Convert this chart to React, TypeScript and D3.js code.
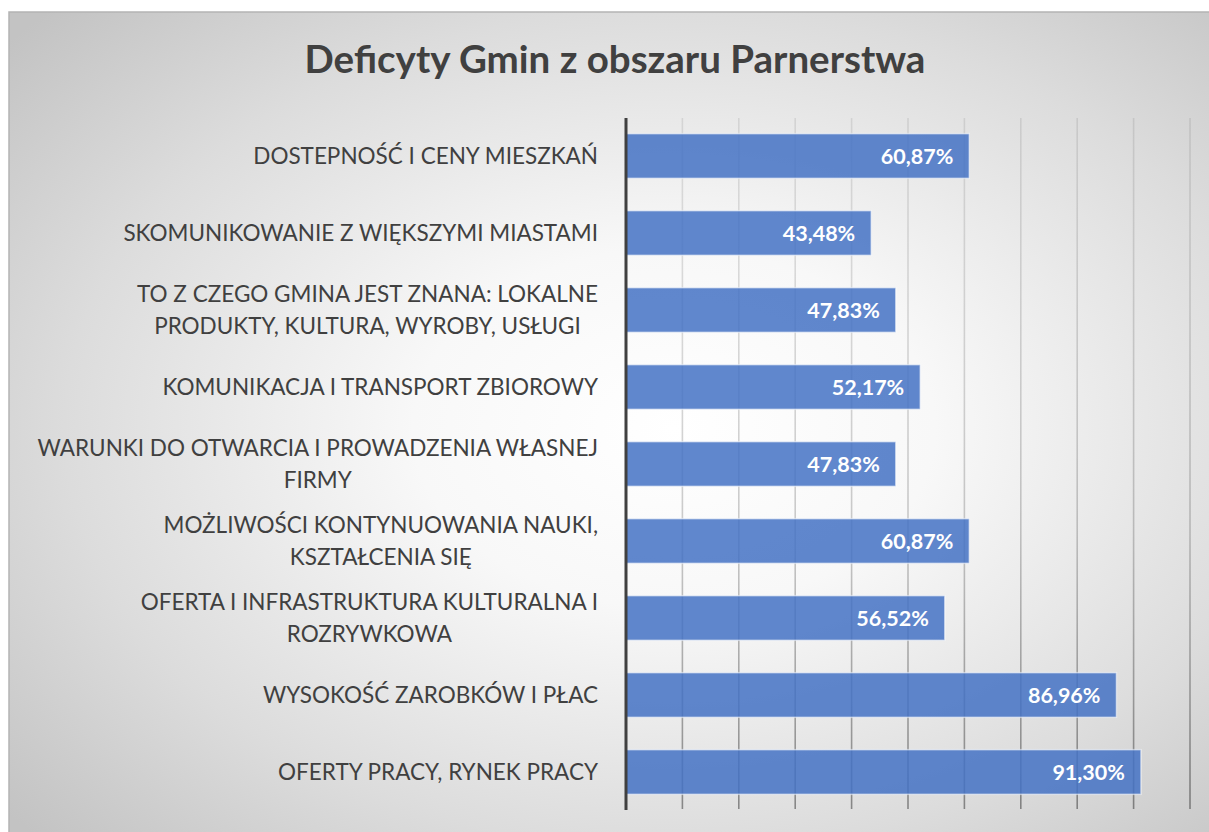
import { useEffect, useRef } from 'react';
import * as d3 from 'd3';

const W = 1209;
const H = 832;

// categories top -> bottom, "\n" marks where the label wraps
const categories = [
  'DOSTEPNOŚĆ I CENY MIESZKAŃ',
  'SKOMUNIKOWANIE Z WIĘKSZYMI MIASTAMI ',
  'TO Z CZEGO GMINA JEST ZNANA: LOKALNE\nPRODUKTY, KULTURA, WYROBY, USŁUGI',
  'KOMUNIKACJA I TRANSPORT ZBIOROWY ',
  'WARUNKI DO OTWARCIA I PROWADZENIA WŁASNEJ\nFIRMY',
  'MOŻLIWOŚCI KONTYNUOWANIA NAUKI,\nKSZTAŁCENIA SIĘ',
  'OFERTA I INFRASTRUKTURA KULTURALNA I\nROZRYWKOWA',
  'WYSOKOŚĆ ZAROBKÓW I PŁAC',
  'OFERTY PRACY, RYNEK PRACY ',
];
const values = [60.87, 43.48, 47.83, 52.17, 47.83, 60.87, 56.52, 86.96, 91.3];
const gridTicks = [10, 20, 30, 40, 50, 60, 70, 80, 90, 100];

const title = 'Deficyty Gmin z obszaru Parnerstwa';
const font = 'Lato, "Open Sans", sans-serif';
const textColor = '#404040';

export default function App() {
  const svgRef = useRef<SVGSVGElement>(null);

  useEffect(() => {
    const svg = d3.select(svgRef.current);
    svg.selectAll('*').remove();

    const x = d3.scaleLinear().domain([0, 100]).range([626, 1190]);
    const y = d3
      .scaleBand<string>()
      .domain(categories)
      .range([117.5, 810.5])
      .paddingInner(0.42)
      .paddingOuter(0.21);

    const defs = svg.append('defs');
    const bg = defs
      .append('radialGradient')
      .attr('id', 'bg')
      .attr('cx', '55%')
      .attr('cy', '50%')
      .attr('r', '72%');
    bg.append('stop').attr('offset', '0%').attr('stop-color', '#ffffff');
    bg.append('stop').attr('offset', '30%').attr('stop-color', '#f8f8f8');
    bg.append('stop').attr('offset', '70%').attr('stop-color', '#dcdcdc');
    bg.append('stop').attr('offset', '100%').attr('stop-color', '#c3c3c3');

    const gridGrad = defs
      .append('linearGradient')
      .attr('id', 'grid')
      .attr('gradientUnits', 'userSpaceOnUse')
      .attr('x1', 0)
      .attr('y1', 118)
      .attr('x2', 0)
      .attr('y2', 810);
    gridGrad.append('stop').attr('offset', '0%').attr('stop-color', '#000').attr('stop-opacity', 0.09);
    gridGrad.append('stop').attr('offset', '60%').attr('stop-color', '#000').attr('stop-opacity', 0.2);
    gridGrad.append('stop').attr('offset', '100%').attr('stop-color', '#000').attr('stop-opacity', 0.4);

    // chart area frame
    svg
      .append('rect')
      .attr('x', 9)
      .attr('y', 12)
      .attr('width', W)
      .attr('height', H)
      .attr('fill', 'url(#bg)')
      .attr('stroke', '#b4b4b4')
      .attr('stroke-width', 1.5);

    svg
      .append('text')
      .attr('x', 615)
      .attr('y', 73)
      .attr('text-anchor', 'middle')
      .attr('font-family', font)
      .attr('font-weight', 700)
      .attr('font-size', 38.5)
      .attr('fill', textColor)
      .text(title);

    // gridlines
    svg
      .append('g')
      .selectAll('line')
      .data(gridTicks)
      .join('line')
      .attr('x1', (d) => x(d))
      .attr('x2', (d) => x(d))
      .attr('y1', 118)
      .attr('y2', 809)
      .attr('stroke', 'url(#grid)')
      .attr('stroke-width', 1.6);

    // bars
    svg
      .append('g')
      .selectAll('rect')
      .data(values)
      .join('rect')
      .attr('x', x(0))
      .attr('y', (d, i) => y(categories[i])!)
      .attr('width', (d) => x(d) - x(0))
      .attr('height', y.bandwidth())
      .attr('fill', '#4472c4')
      .attr('fill-opacity', 0.85)
      .attr('stroke', '#ffffff')
      .attr('stroke-opacity', 0.55)
      .attr('stroke-width', 1.5);

    // value labels inside bar end
    svg
      .append('g')
      .selectAll('text')
      .data(values)
      .join('text')
      .attr('x', (d) => x(d) - 16)
      .attr('y', (d, i) => y(categories[i])! + y.bandwidth() / 2)
      .attr('dy', '0.36em')
      .attr('text-anchor', 'end')
      .attr('font-family', font)
      .attr('font-weight', 700)
      .attr('font-size', 21.5)
      .attr('fill', '#ffffff')
      .text((d) => d.toFixed(2).replace('.', ',') + '%');

    // category labels, lines centred, block right-aligned to the axis
    const lineH = 32.5;
    const labels = svg.append('g');
    categories.forEach((c) => {
      const lines = c.split('\n');
      const cy = y(c)! + y.bandwidth() / 2;
      const t = labels
        .append('text')
        .attr('font-family', font)
        .attr('font-size', 22.5)
        .attr('fill', textColor)
        .attr('text-anchor', 'middle');
      const spans = lines.map((ln, j) =>
        t
          .append('tspan')
          .attr('y', cy + (j - (lines.length - 1) / 2) * lineH)
          .attr('dy', '0.36em')
          .text(ln)
      );
      const maxW = d3.max(spans, (s) => (s.node() as SVGTSpanElement).getComputedTextLength()) || 0;
      spans.forEach((s) => s.attr('x', 598 - maxW / 2));
    });

    // vertical axis
    svg
      .append('line')
      .attr('x1', x(0))
      .attr('x2', x(0))
      .attr('y1', 118)
      .attr('y2', 810)
      .attr('stroke', '#404040')
      .attr('stroke-width', 3);
  }, []);

  return (
    <svg
      ref={svgRef}
      width={W}
      height={H}
      style={{ position: 'absolute', left: 0, top: 0, background: '#fff' }}
    />
  );
}
